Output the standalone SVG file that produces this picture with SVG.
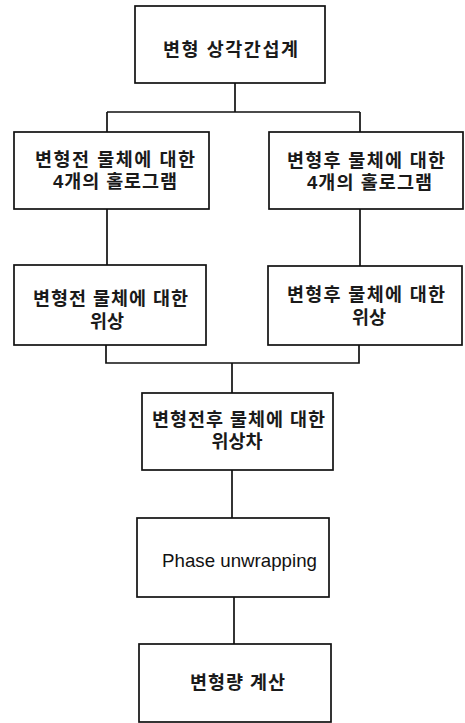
<svg xmlns="http://www.w3.org/2000/svg" width="465" height="723" viewBox="0 0 465 723">
<style>
.box{fill:#fff;stroke:#111;stroke-width:1.7}
.ln{fill:none;stroke:#111;stroke-width:1.7}
.t{font-family:"Liberation Sans","Noto Sans CJK KR",sans-serif;font-size:18.5px;font-weight:bold;fill:#1a1a1a}
.c{text-anchor:middle}
.e{font-family:"Liberation Sans",Arial,sans-serif;font-size:19px;fill:#111}
</style>
<rect width="465" height="723" fill="#fff"/>
<g id="connectors">
<path class="ln" d="M235,83V112M107,112H360M107,112V132M360,112V132"/>
<path class="ln" d="M107,209V265M360,209V266"/>
<path class="ln" d="M106,345V363H359V345M232,363V393"/>
<path class="ln" d="M232,470V518"/>
<path class="ln" d="M234,597V644"/>
</g>
<g id="n1">
<rect class="box" x="135" y="6" width="190" height="77"/>
<text class="t" x="163" y="56" textLength="135" lengthAdjust="spacing">변형 상각간섭계</text>
</g>
<g id="n2">
<rect class="box" x="14" y="132" width="195" height="77"/>
<text class="t" x="35" y="166" textLength="160" lengthAdjust="spacing">변형전 물체에 대한</text>
<text class="t" x="53" y="188" textLength="124" lengthAdjust="spacing">4개의 홀로그램</text>
</g>
<g id="n3">
<rect class="box" x="269" y="132" width="194" height="77"/>
<text class="t" x="287" y="167" textLength="158" lengthAdjust="spacing">변형후 물체에 대한</text>
<text class="t" x="307" y="189" textLength="125" lengthAdjust="spacing">4개의 홀로그램</text>
</g>
<g id="n4">
<rect class="box" x="14" y="265" width="192" height="80"/>
<text class="t" x="33" y="305" textLength="155" lengthAdjust="spacing">변형전 물체에 대한</text>
<text class="t c" x="107" y="328">위상</text>
</g>
<g id="n5">
<rect class="box" x="268" y="266" width="194" height="79"/>
<text class="t" x="287" y="301" textLength="158" lengthAdjust="spacing">변형후 물체에 대한</text>
<text class="t c" x="369" y="324">위상</text>
</g>
<g id="n6">
<rect class="box" x="142" y="393" width="191" height="77"/>
<text class="t" x="152" y="426" textLength="173" lengthAdjust="spacing">변형전후 물체에 대한</text>
<text class="t c" x="237" y="448">위상차</text>
</g>
<g id="n7">
<rect class="box" x="137" y="518" width="192" height="79"/>
<text class="e" x="162" y="567" textLength="155" lengthAdjust="spacingAndGlyphs">Phase unwrapping</text>
</g>
<g id="n8">
<rect class="box" x="139" y="644" width="192" height="78"/>
<text class="t" x="190" y="689" textLength="95" lengthAdjust="spacing">변형량 계산</text>
</g>
</svg>
